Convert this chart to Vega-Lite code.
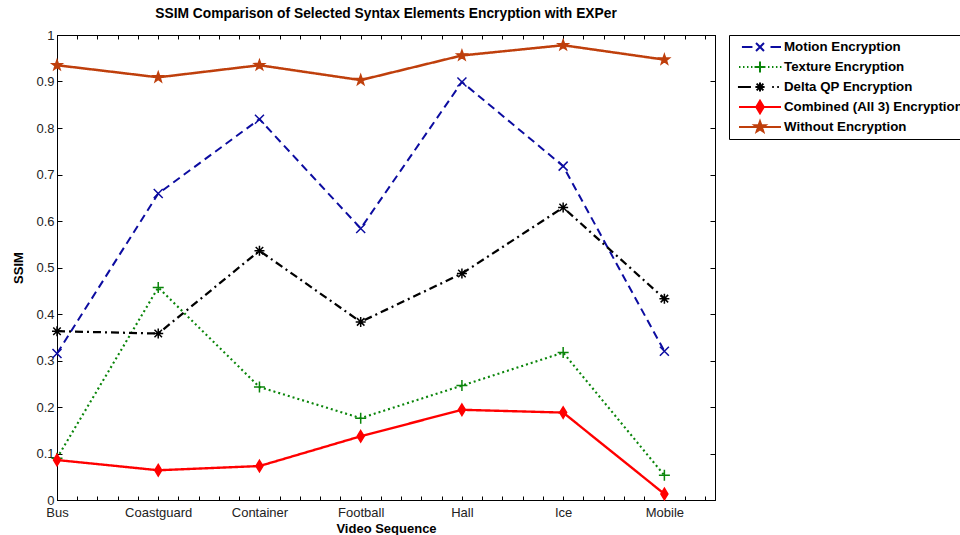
{
  "$schema": "https://vega.github.io/schema/vega-lite/v6.json",
  "width": 658,
  "height": 465,
  "autosize": {"type": "none"},
  "padding": {"left": 57, "top": 35, "right": 245, "bottom": 35},
  "background": "white",
  "title": {
    "text": "SSIM Comparison of Selected Syntax Elements Encryption with EXPer",
    "font": "Liberation Sans",
    "fontSize": 13.8,
    "fontWeight": "bold",
    "color": "black",
    "anchor": "middle",
    "offset": 8
  },
  "config": {
    "view": {"stroke": "black", "strokeWidth": 1},
    "axis": {
      "grid": false,
      "domainColor": "black",
      "tickColor": "black",
      "labelColor": "#222",
      "labelFont": "Liberation Sans",
      "labelFontSize": 13,
      "titleFont": "Liberation Sans",
      "titleColor": "black",
      "titleFontWeight": "bold",
      "titleFontSize": 13
    }
  },
  "data": {
    "values": [
      {"series": "Motion Encryption", "x": 1, "seq": "Bus", "ssim": 0.315},
      {"series": "Motion Encryption", "x": 2, "seq": "Coastguard", "ssim": 0.659},
      {"series": "Motion Encryption", "x": 3, "seq": "Container", "ssim": 0.819},
      {"series": "Motion Encryption", "x": 4, "seq": "Football", "ssim": 0.584},
      {"series": "Motion Encryption", "x": 5, "seq": "Hall", "ssim": 0.899},
      {"series": "Motion Encryption", "x": 6, "seq": "Ice", "ssim": 0.718},
      {"series": "Motion Encryption", "x": 7, "seq": "Mobile", "ssim": 0.320},
      {"series": "Texture Encryption", "x": 1, "seq": "Bus", "ssim": 0.090},
      {"series": "Texture Encryption", "x": 2, "seq": "Coastguard", "ssim": 0.457},
      {"series": "Texture Encryption", "x": 3, "seq": "Container", "ssim": 0.243},
      {"series": "Texture Encryption", "x": 4, "seq": "Football", "ssim": 0.176},
      {"series": "Texture Encryption", "x": 5, "seq": "Hall", "ssim": 0.246},
      {"series": "Texture Encryption", "x": 6, "seq": "Ice", "ssim": 0.317},
      {"series": "Texture Encryption", "x": 7, "seq": "Mobile", "ssim": 0.053},
      {"series": "Delta QP Encryption", "x": 1, "seq": "Bus", "ssim": 0.363},
      {"series": "Delta QP Encryption", "x": 2, "seq": "Coastguard", "ssim": 0.358},
      {"series": "Delta QP Encryption", "x": 3, "seq": "Container", "ssim": 0.536},
      {"series": "Delta QP Encryption", "x": 4, "seq": "Football", "ssim": 0.383},
      {"series": "Delta QP Encryption", "x": 5, "seq": "Hall", "ssim": 0.487},
      {"series": "Delta QP Encryption", "x": 6, "seq": "Ice", "ssim": 0.629},
      {"series": "Delta QP Encryption", "x": 7, "seq": "Mobile", "ssim": 0.433},
      {"series": "Combined (All 3) Encryption", "x": 1, "seq": "Bus", "ssim": 0.086},
      {"series": "Combined (All 3) Encryption", "x": 2, "seq": "Coastguard", "ssim": 0.064},
      {"series": "Combined (All 3) Encryption", "x": 3, "seq": "Container", "ssim": 0.073},
      {"series": "Combined (All 3) Encryption", "x": 4, "seq": "Football", "ssim": 0.137},
      {"series": "Combined (All 3) Encryption", "x": 5, "seq": "Hall", "ssim": 0.194},
      {"series": "Combined (All 3) Encryption", "x": 6, "seq": "Ice", "ssim": 0.188},
      {"series": "Combined (All 3) Encryption", "x": 7, "seq": "Mobile", "ssim": 0.013},
      {"series": "Without Encryption", "x": 1, "seq": "Bus", "ssim": 0.935},
      {"series": "Without Encryption", "x": 2, "seq": "Coastguard", "ssim": 0.909},
      {"series": "Without Encryption", "x": 3, "seq": "Container", "ssim": 0.935},
      {"series": "Without Encryption", "x": 4, "seq": "Football", "ssim": 0.903},
      {"series": "Without Encryption", "x": 5, "seq": "Hall", "ssim": 0.956},
      {"series": "Without Encryption", "x": 6, "seq": "Ice", "ssim": 0.978},
      {"series": "Without Encryption", "x": 7, "seq": "Mobile", "ssim": 0.947}
    ]
  },
  "layer": [
    {
      "mark": {"type": "line", "strokeCap": "butt", "strokeJoin": "miter"},
      "encoding": {
        "x": {
          "field": "x", "type": "quantitative",
          "scale": {"domain": [1, 7.5], "nice": false, "zero": false},
          "axis": {
            "orient": "bottom",
            "values": [1,1.2,1.4,1.6,1.8,2,2.2,2.4,2.6,2.8,3,3.2,3.4,3.6,3.8,4,4.2,4.4,4.6,4.8,5,5.2,5.4,5.6,5.8,6,6.2,6.4,6.6,6.8,7,7.2,7.4],
            "labelExpr": "datum.value == 1 ? 'Bus' : datum.value == 2 ? 'Coastguard' : datum.value == 3 ? 'Container' : datum.value == 4 ? 'Football' : datum.value == 5 ? 'Hall' : datum.value == 6 ? 'Ice' : datum.value == 7 ? 'Mobile' : ''",
            "labelFlush": false,
            "labelOverlap": false,
            "labelBound": false,
            "tickSize": -4,
            "labelPadding": 10,
            "title": "Video Sequence",
            "titlePadding": 3
          }
        },
        "y": {
          "field": "ssim", "type": "quantitative",
          "scale": {"domain": [0, 1], "nice": false, "zero": false},
          "axis": {
            "orient": "left",
            "values": [0,0.1,0.2,0.3,0.4,0.5,0.6,0.7,0.8,0.9,1],
            "format": "~g",
            "tickSize": -5,
            "labelPadding": 8,
            "labelFlush": false,
            "labelOverlap": false,
            "title": "SSIM",
            "titlePadding": 10
          }
        },
        "color": {
          "field": "series", "type": "nominal",
          "scale": {
            "domain": ["Motion Encryption", "Texture Encryption", "Delta QP Encryption", "Combined (All 3) Encryption", "Without Encryption"],
            "range": ["#0c0ca0", "#0a850a", "#000000", "#ff0000", "#bf3f0c"]
          },
          "legend": {
            "orient": "none",
            "legendX": 672,
            "legendY": 0,
            "title": null,
            "strokeColor": "black",
            "fillColor": "white",
            "padding": 2,
            "symbolSize": 1764,
            "clipHeight": 20,
            "rowPadding": 0,
            "symbolOffset": 7,
            "labelOffset": 2,
            "labelFont": "Liberation Sans",
            "labelFontSize": 13.3,
            "labelFontWeight": "bold",
            "labelColor": "black",
            "labelLimit": 0,
            "encoding": {
              "symbols": {
                "shape": {"value": {"expr": "datum.value === 'Motion Encryption' ? 'M-0.86,0H-0.36M0.5,0H1M-0.19,-0.19L0.19,0.19M-0.19,0.19L0.19,-0.19' : datum.value === 'Texture Encryption' ? 'M-1,0H-0.93M-0.81,0H-0.74M-0.62,0H-0.55M-0.43,0H-0.36M0.38,0H0.45M0.57,0H0.64M0.76,0H0.83M0.95,0H1.02M-0.26,0H0.26M0,-0.26V0.26' : datum.value === 'Delta QP Encryption' ? 'M-1.05,0H-0.43M0.58,0H0.66M0.82,0H0.9M-0.22,0H0.22M0,-0.22V0.22M-0.16,-0.16L0.16,0.16M-0.16,0.16L0.16,-0.16' : datum.value === 'Combined (All 3) Encryption' ? 'M-1,0H1M0,-0.3L0.18,0L0,0.3L-0.18,0Z' : 'M-1,0H1M0,-0.275L0.065,-0.089L0.262,-0.085L0.105,0.034L0.162,0.222L0,0.11L-0.162,0.222L-0.105,0.034L-0.262,-0.085L-0.065,-0.089Z'"}},
                "fill": {"value": {"expr": "scale('color', datum.value)"}},
                "stroke": {"value": {"expr": "scale('color', datum.value)"}},
                "strokeDash": {"value": []},
                "strokeWidth": {"value": 2},
                "size": {"value": 1764},
                "opacity": {"value": 1},
                "fillOpacity": {"value": 1}
              }
            }
          }
        },
        "strokeDash": {
          "field": "series", "type": "nominal",
          "scale": {
            "domain": ["Without Encryption", "Combined (All 3) Encryption", "Delta QP Encryption", "Texture Encryption", "Motion Encryption"],
            "range": [[1, 0], [1, 0], [8, 4, 2, 4], [2, 3], [8, 5]]
          },
          "legend": null
        },
        "strokeWidth": {
          "field": "series", "type": "nominal",
          "scale": {
            "domain": ["Without Encryption", "Combined (All 3) Encryption", "Delta QP Encryption", "Texture Encryption", "Motion Encryption"],
            "range": [2.5, 2, 1.5, 2, 2]
          },
          "legend": null
        }
      }
    },
    {
      "mark": {"type": "point", "filled": true, "size": 100, "opacity": 1},
      "encoding": {
        "x": {
          "field": "x", "type": "quantitative",
          "scale": {"domain": [1, 7.5], "nice": false, "zero": false},
          "axis": {
            "orient": "top",
            "values": [1,1.2,1.4,1.6,1.8,2,2.2,2.4,2.6,2.8,3,3.2,3.4,3.6,3.8,4,4.2,4.4,4.6,4.8,5,5.2,5.4,5.6,5.8,6,6.2,6.4,6.6,6.8,7,7.2,7.4],
            "labels": false,
            "tickSize": -4,
            "title": null
          }
        },
        "y": {
          "field": "ssim", "type": "quantitative",
          "scale": {"domain": [0, 1], "nice": false, "zero": false},
          "axis": {
            "orient": "right",
            "values": [0,0.1,0.2,0.3,0.4,0.5,0.6,0.7,0.8,0.9,1],
            "labels": false,
            "tickSize": -5,
            "title": null
          }
        },
        "fill": {
          "field": "series", "type": "nominal",
          "scale": {
            "domain": ["Without Encryption", "Combined (All 3) Encryption", "Delta QP Encryption", "Texture Encryption", "Motion Encryption"],
            "range": ["#bf3f0c", "#ff0000", "#000000", "#0a850a", "#0c0ca0"]
          },
          "legend": null
        },
        "stroke": {
          "field": "series", "type": "nominal",
          "scale": {
            "domain": ["Without Encryption", "Combined (All 3) Encryption", "Delta QP Encryption", "Texture Encryption", "Motion Encryption"],
            "range": ["#bf3f0c", "#ff0000", "#000000", "#0a850a", "#0c0ca0"]
          },
          "legend": null
        },
        "shape": {
          "field": "series", "type": "nominal",
          "scale": {
            "domain": ["Without Encryption", "Combined (All 3) Encryption", "Delta QP Encryption", "Texture Encryption", "Motion Encryption"],
            "range": [
              "M0,-1.05L0.247,-0.34L0.999,-0.324L0.4,0.13L0.617,0.849L0,0.42L-0.617,0.849L-0.4,0.13L-0.999,-0.324L-0.247,-0.34Z",
              "M0,-1.15L0.7,0L0,1.15L-0.7,0Z",
              "M-1,0H1M0,-1V1M-0.75,-0.75L0.75,0.75M-0.75,0.75L0.75,-0.75",
              "M-1.1,0H1.1M0,-1.1V1.1",
              "M-0.9,-0.9L0.9,0.9M-0.9,0.9L0.9,-0.9"
            ]
          },
          "legend": null
        },
        "strokeWidth": {
          "field": "series", "type": "nominal",
          "scale": {
            "domain": ["Motion Encryption", "Delta QP Encryption", "Texture Encryption", "Combined (All 3) Encryption", "Without Encryption"],
            "range": [1.5, 1.5, 3, 1, 1]
          },
          "legend": null
        }
      }
    }
  ],
  "resolve": {
    "axis": {"x": "independent", "y": "independent"},
    "scale": {"strokeWidth": "independent"}
  }
}
